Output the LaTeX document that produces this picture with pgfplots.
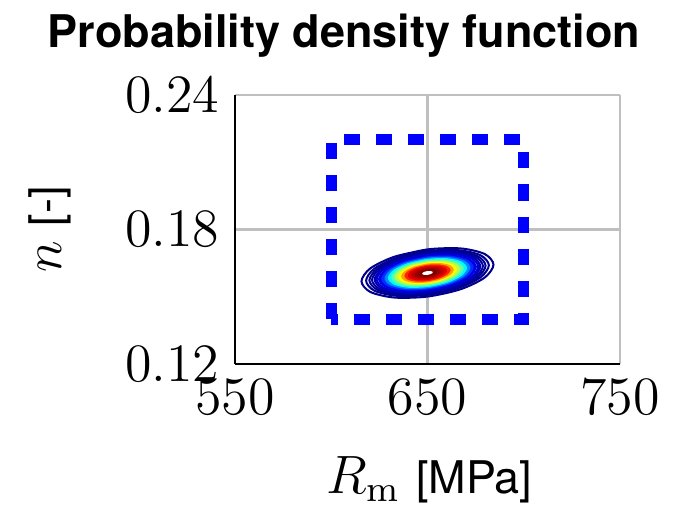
\documentclass[border=0pt]{standalone}
\usepackage{fontspec}
\setsansfont{TeX Gyre Heros}
\usepackage{pgfplots}
\pgfplotsset{compat=1.18}
\definecolor{gridgray}{gray}{0.75}
% outline contours (low levels)
\definecolor{o1}{rgb}{0,0,0.55}
\definecolor{o2}{rgb}{0,0,0.56}
\definecolor{o3}{rgb}{0,0,0.58}
\definecolor{o4}{rgb}{0,0,0.62}
\definecolor{o5}{rgb}{0,0,0.70}
\definecolor{o6}{rgb}{0,0,0.80}
% filled levels, jet colours
\definecolor{f75}{rgb}{0,0,0.9}
\definecolor{f70}{rgb}{0,0.18,1}
\definecolor{f65}{rgb}{0,0.54,1}
\definecolor{f60}{rgb}{0,0.98,1}
\definecolor{f55}{rgb}{0.34,1,0.66}
\definecolor{f50}{rgb}{0.7,1,0.3}
\definecolor{f45}{rgb}{1,0.98,0}
\definecolor{f40}{rgb}{1,0.62,0}
\definecolor{f35}{rgb}{1,0.14,0}
\definecolor{f30}{rgb}{0.9,0,0}
\definecolor{f25}{rgb}{0.74,0,0}
\definecolor{f20}{rgb}{0.62,0,0}
\definecolor{f15}{rgb}{0.5,0,0}

\pgfplotsset{
  ring/.style={smooth, line width=0.45pt},
  band/.style={smooth, draw=none},
}
\newcommand{\bigmath}{\fontsize{11.5}{13}\selectfont}

\begin{document}
\begin{tikzpicture}
\useasboundingbox (-52.22pt,-31.56pt) rectangle (98.89pt,80.89pt);
\begin{axis}[
  at={(0pt,0pt)}, anchor=south west,
  scale only axis, width=85.56pt, height=59.78pt,
  xmin=550, xmax=750, ymin=0.12, ymax=0.24,
  xtick={550,650,750}, ytick={0.12,0.18,0.24},
  axis x line*=bottom, axis y line*=left,
  axis line style={line width=0.5pt, black},
  grid=major, major grid style={gridgray, line width=0.5pt},
  major tick length=0pt,
  tick label style={font=\bigmath},
  yticklabel style={/pgf/number format/fixed, /pgf/number format/precision=2, /pgf/number format/fixed zerofill},
  title={Probability density function},
  every axis title shift=0pt,
  title style={at={(axis description cs:0.283,1.178)}, anchor=base, font=\sffamily\bfseries},
  xlabel={{\bigmath$R_\mathrm{m}$} \textsf{[MPa]}},
  xlabel style={at={(axis description cs:0.505,-0.4796)}, anchor=base},
  ylabel={{\bigmath$n$} \textsf{[-]}},
  ylabel style={at={(axis description cs:-0.4494,0.5)}, anchor=base},
  no markers,
]

% outer contour lines
\addplot[ring, draw=o1] coordinates {(650,0.17112) (632.85,0.16786) (620.30,0.16265) (615.71,0.15690) (620.30,0.15214) (632.85,0.14964) (650,0.15008) (667.15,0.15334) (679.70,0.15855) (684.29,0.16430) (679.70,0.16907) (667.15,0.17156) (650,0.17112) (632.85,0.16786)};
\addplot[ring, draw=o2] coordinates {(650,0.17038) (634.05,0.16735) (622.38,0.16251) (618.11,0.15716) (622.38,0.15273) (634.05,0.15041) (650,0.15082) (665.95,0.15385) (677.62,0.15869) (681.89,0.16404) (677.62,0.16847) (665.95,0.17079) (650,0.17038) (634.05,0.16735)};
\addplot[ring, draw=o3] coordinates {(650,0.16986) (634.91,0.16699) (623.86,0.16241) (619.82,0.15734) (623.86,0.15315) (634.91,0.15096) (650,0.15135) (665.09,0.15421) (676.14,0.15879) (680.18,0.16386) (676.14,0.16805) (665.09,0.17024) (650,0.16986) (634.91,0.16699)};
\addplot[ring, draw=o4] coordinates {(650,0.16943) (635.59,0.16670) (625.05,0.16233) (621.20,0.15749) (625.05,0.15349) (635.59,0.15139) (650,0.15177) (664.41,0.15450) (674.95,0.15888) (678.80,0.16371) (674.95,0.16771) (664.41,0.16981) (650,0.16943) (635.59,0.16670)};
\addplot[ring, draw=o5] coordinates {(650,0.16901) (636.28,0.16641) (626.24,0.16224) (622.57,0.15764) (626.24,0.15383) (636.28,0.15183) (650,0.15219) (663.72,0.15479) (673.76,0.15896) (677.43,0.16356) (673.76,0.16737) (663.72,0.16937) (650,0.16901) (636.28,0.16641)};
\addplot[ring, draw=o6] coordinates {(650,0.16870) (636.79,0.16619) (627.13,0.16218) (623.60,0.15775) (627.13,0.15408) (636.79,0.15216) (650,0.15250) (663.21,0.15501) (672.87,0.15902) (676.40,0.16345) (672.87,0.16712) (663.21,0.16904) (650,0.16870) (636.79,0.16619)};

% inner levels, filled
\addplot[band, fill=f75] coordinates {(650,0.16849) (637.14,0.16604) (627.72,0.16214) (624.28,0.15782) (627.72,0.15425) (637.14,0.15238) (650,0.15271) (662.86,0.15516) (672.28,0.15906) (675.72,0.16338) (672.28,0.16695) (662.86,0.16882) (650,0.16849) (637.14,0.16604)};
\addplot[band, fill=f70] coordinates {(650,0.16796) (637.99,0.16568) (629.21,0.16204) (626.00,0.15801) (629.21,0.15467) (637.99,0.15293) (650,0.15324) (662.01,0.15552) (670.79,0.15916) (674.00,0.16319) (670.79,0.16653) (662.01,0.16827) (650,0.16796) (637.99,0.16568)};
\addplot[band, fill=f65] coordinates {(650,0.16744) (638.85,0.16532) (630.69,0.16193) (627.71,0.15819) (630.69,0.15510) (638.85,0.15348) (650,0.15376) (661.15,0.15588) (669.31,0.15927) (672.29,0.16301) (669.31,0.16610) (661.15,0.16772) (650,0.16744) (638.85,0.16532)};
\addplot[band, fill=f60] coordinates {(650,0.16691) (639.71,0.16495) (632.18,0.16183) (629.43,0.15838) (632.18,0.15552) (639.71,0.15403) (650,0.15429) (660.29,0.15625) (667.82,0.15937) (670.57,0.16282) (667.82,0.16568) (660.29,0.16718) (650,0.16691) (639.71,0.16495)};
\addplot[band, fill=f55] coordinates {(650,0.16638) (640.57,0.16459) (633.66,0.16173) (631.14,0.15856) (633.66,0.15594) (640.57,0.15457) (650,0.15482) (659.43,0.15661) (666.34,0.15947) (668.86,0.16264) (666.34,0.16526) (659.43,0.16663) (650,0.16638) (640.57,0.16459)};
\addplot[band, fill=f50] coordinates {(650,0.16586) (641.42,0.16423) (635.15,0.16163) (632.85,0.15875) (635.15,0.15637) (641.42,0.15512) (650,0.15534) (658.58,0.15697) (664.85,0.15957) (667.15,0.16245) (664.85,0.16483) (658.58,0.16608) (650,0.16586) (641.42,0.16423)};
\addplot[band, fill=f45] coordinates {(650,0.16533) (642.28,0.16387) (636.63,0.16152) (634.57,0.15893) (636.63,0.15679) (642.28,0.15567) (650,0.15587) (657.72,0.15733) (663.37,0.15968) (665.43,0.16227) (663.37,0.16441) (657.72,0.16553) (650,0.16533) (642.28,0.16387)};
\addplot[band, fill=f40] coordinates {(650,0.16481) (643.14,0.16350) (638.12,0.16142) (636.28,0.15912) (638.12,0.15721) (643.14,0.15622) (650,0.15639) (656.86,0.15770) (661.88,0.15978) (663.72,0.16208) (661.88,0.16399) (656.86,0.16498) (650,0.16481) (643.14,0.16350)};
\addplot[band, fill=f35] coordinates {(650,0.16428) (644.00,0.16314) (639.60,0.16132) (638.00,0.15930) (639.60,0.15764) (644.00,0.15676) (650,0.15692) (656.00,0.15806) (660.40,0.15988) (662.00,0.16190) (660.40,0.16356) (656.00,0.16444) (650,0.16428) (644.00,0.16314)};
\addplot[band, fill=f30] coordinates {(650,0.16376) (644.85,0.16278) (641.09,0.16122) (639.71,0.15949) (641.09,0.15806) (644.85,0.15731) (650,0.15745) (655.15,0.15842) (658.91,0.15998) (660.29,0.16171) (658.91,0.16314) (655.15,0.16389) (650,0.16376) (644.85,0.16278)};
\addplot[band, fill=f25] coordinates {(650,0.16323) (645.71,0.16241) (642.57,0.16111) (641.43,0.15967) (642.57,0.15848) (645.71,0.15786) (650,0.15797) (654.29,0.15879) (657.43,0.16009) (658.57,0.16153) (657.43,0.16272) (654.29,0.16334) (650,0.16323) (645.71,0.16241)};
\addplot[band, fill=f20] coordinates {(650,0.16270) (646.57,0.16205) (644.06,0.16101) (643.14,0.15986) (644.06,0.15891) (646.57,0.15841) (650,0.15850) (653.43,0.15915) (655.94,0.16019) (656.86,0.16134) (655.94,0.16229) (653.43,0.16279) (650,0.16270) (646.57,0.16205)};
\addplot[band, fill=f15] coordinates {(650,0.16218) (647.43,0.16169) (645.54,0.16091) (644.86,0.16005) (645.54,0.15933) (647.43,0.15896) (650,0.15902) (652.57,0.15951) (654.46,0.16029) (655.14,0.16116) (654.46,0.16187) (652.57,0.16224) (650,0.16218) (647.43,0.16169)};
\addplot[band, fill=white] coordinates {(650,0.16144) (648.63,0.16118) (647.62,0.16076) (647.26,0.16030) (647.62,0.15992) (648.63,0.15972) (650,0.15976) (651.37,0.16002) (652.38,0.16044) (652.74,0.16090) (652.38,0.16128) (651.37,0.16148) (650,0.16144) (648.63,0.16118)};

% design box
\addplot[blue, line width=2.38pt, dash pattern=on 3.56pt off 3.56pt]
  coordinates {(600,0.14) (600,0.22) (700,0.22) (700,0.14) (600,0.14)};
\end{axis}
\end{tikzpicture}
\end{document}
